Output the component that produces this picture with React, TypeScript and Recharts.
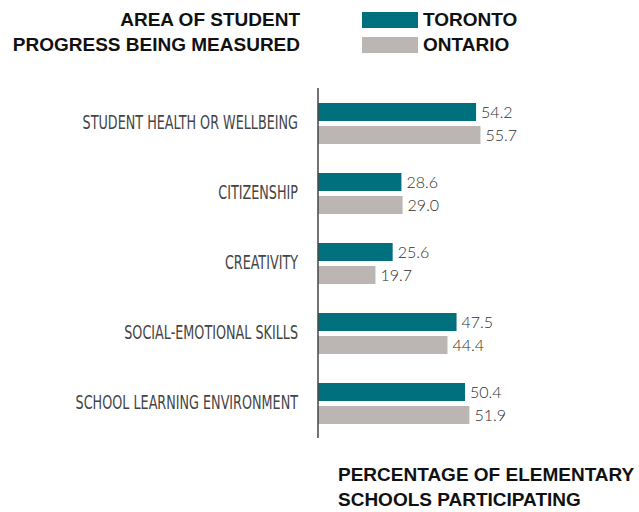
import React from "react";
import { BarChart, Bar, XAxis, YAxis, LabelList } from "recharts";

const categories = [
  "STUDENT HEALTH OR WELLBEING",
  "CITIZENSHIP",
  "CREATIVITY",
  "SOCIAL-EMOTIONAL SKILLS",
  "SCHOOL LEARNING ENVIRONMENT",
];
const toronto = [54.2, 28.6, 25.6, 47.5, 50.4];
const ontario = [55.7, 29.0, 19.7, 44.4, 51.9];
const seriesNames = ["TORONTO", "ONTARIO"];

const TEAL = "#006f7e";
const GREY = "#bbb6b3";

const data = categories.map((name, i) => ({
  name,
  toronto: toronto[i],
  ontario: ontario[i],
}));

const headFont = "'Liberation Sans', Arial, sans-serif";
const headStyle: React.CSSProperties = {
  position: "absolute",
  fontFamily: headFont,
  fontWeight: 700,
  fontSize: 19,
  lineHeight: "25px",
  color: "#111",
  whiteSpace: "nowrap",
};

function CategoryTick(props: any) {
  const { x, y, payload } = props;
  return (
    <text
      transform={`translate(${x},${y}) scale(0.71,1)`}
      textAnchor="end"
      dy="0.3em"
      fill="#444"
      fontSize={20}
      fontFamily="'Liberation Sans Narrow', 'DejaVu Sans Condensed', sans-serif"
    >
      {payload.value}
    </text>
  );
}

const labelStyle = { fill: "#2e2e2e", fontSize: 16, fontFamily: "Lato, sans-serif", fontWeight: 300 };

export default function App() {
  return (
    <div style={{ position: "absolute", left: 0, top: 0, width: 639, height: 512, background: "#fff" }}>
      <div style={{ ...headStyle, right: 639 - 300, top: 7, textAlign: "right" }}>
        AREA OF STUDENT
        <br />
        PROGRESS BEING MEASURED
      </div>
      <div style={{ ...headStyle, left: 362, top: 7 }}>
        {seriesNames.map((s, i) => (
          <div key={s} style={{ display: "flex", alignItems: "center", height: 25 }}>
            <div style={{ width: 56, height: 16, background: i === 0 ? TEAL : GREY, marginRight: 5 }} />
            <span>{s}</span>
          </div>
        ))}
      </div>
      <div style={{ ...headStyle, left: 338, top: 462 }}>
        PERCENTAGE OF ELEMENTARY
        <br />
        SCHOOLS PARTICIPATING
      </div>
      <div style={{ position: "absolute", left: 0, top: 0 }}>
        <BarChart
          width={639}
          height={512}
          data={data}
          layout="vertical"
          margin={{ top: 88, right: 146, bottom: 74, left: 0 }}
          barCategoryGap={14}
          barGap={5}
          barSize={18}
        >
          <XAxis type="number" domain={[0, 60]} hide />
          <YAxis
            type="category"
            dataKey="name"
            width={318}
            tickLine={false}
            tickSize={0}
            tickMargin={20}
            axisLine={{ stroke: "#444", strokeWidth: 1.5 }}
            tick={<CategoryTick />}
          />
          <Bar dataKey="toronto" name={seriesNames[0]} fill={TEAL} isAnimationActive={false}>
            <LabelList
              dataKey="toronto"
              position="right"
              offset={5}
              formatter={(v: any) => Number(v).toFixed(1)}
              style={labelStyle}
            />
          </Bar>
          <Bar dataKey="ontario" name={seriesNames[1]} fill={GREY} isAnimationActive={false}>
            <LabelList
              dataKey="ontario"
              position="right"
              offset={5}
              formatter={(v: any) => Number(v).toFixed(1)}
              style={labelStyle}
            />
          </Bar>
        </BarChart>
      </div>
    </div>
  );
}
